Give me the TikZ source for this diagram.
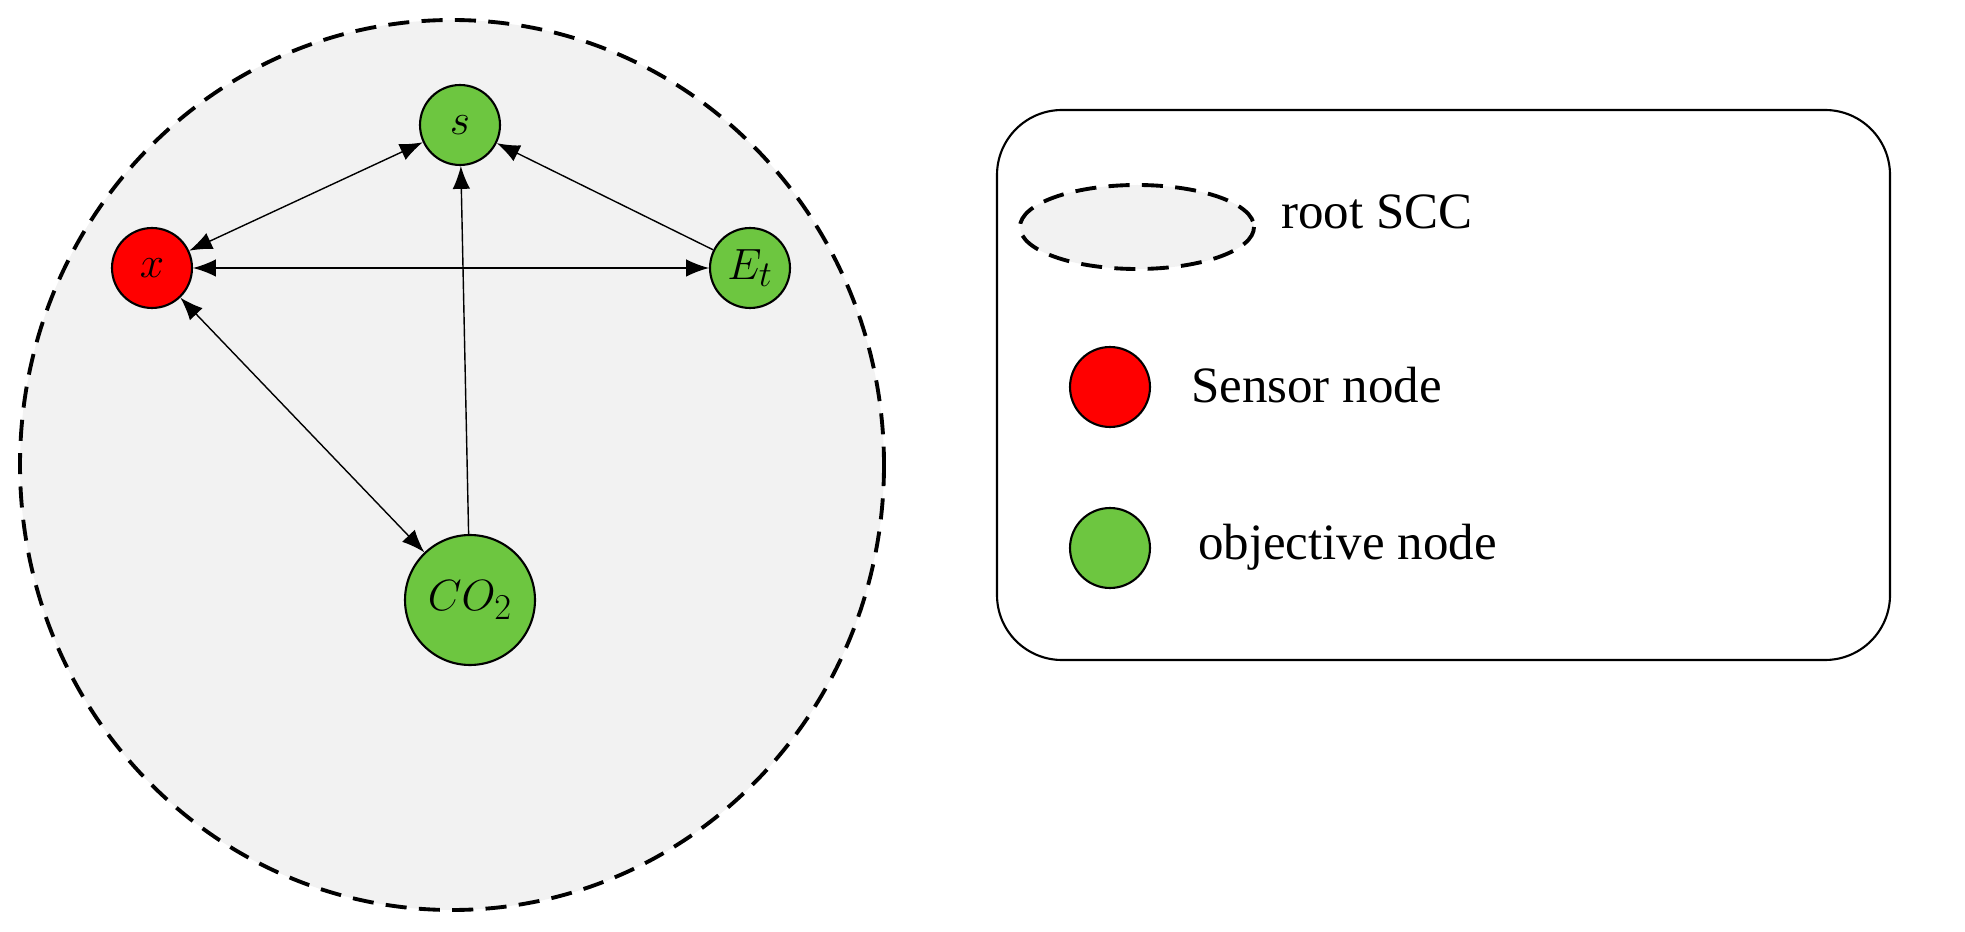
\documentclass[tikz,border=0pt]{standalone}
\usepackage{fontspec}
\setmainfont{Liberation Serif}
\usetikzlibrary{arrows.meta,positioning}
\begin{document}
\begin{tikzpicture}[x=0.02cm, y=-0.02cm]
\tikzset{
    sensor/.style={circle, draw=black, very thick, fill=red, minimum size=1.6cm, inner sep=0pt, font=\fontsize{32}{36}\selectfont},
    objective/.style={circle, draw=black, very thick, fill=green!55!lime!70!black!75!white, minimum size=1.6cm, inner sep=0pt, font=\fontsize{32}{36}\selectfont},
    myarrow/.style={-{Latex[length=13pt,width=10pt]}, thick},
    myboth/.style={{Latex[length=13pt,width=10pt]}-{Latex[length=13pt,width=10pt]}, thick},
    rootscc/.style={draw=black, line width=2.2pt, dash pattern=on 12pt off 7pt, fill=black!5},
    mylabel/.style={anchor=west, font=\fontsize{29}{33}\selectfont}
}
\useasboundingbox (0,0) rectangle (1965,932);
% root SCC
\draw[rootscc] (452,465) ellipse [x radius=432, y radius=445];
\node[objective] (s) at (460,125) {$s$};
\node[sensor] (x) at (152,268) {$x$};
\node[objective] (et) at (750,268) {$E_t$};
\node[objective, minimum size=2.6cm] (co2) at (470,600) {$CO_2$};
\draw[myboth] (x) -- (s);
\draw[myboth] (x) -- (et);
\draw[myboth] (x) -- (co2);
\draw[myarrow] (co2) -- (s);
\draw[myarrow] (et) -- (s);
% legend
\draw[very thick, rounded corners=1.3cm] (997,110) rectangle (1890,660);
\draw[rootscc] (1137,227) ellipse [x radius=117, y radius=42];
\node[sensor] (lsensor) at (1110,387) {};
\node[objective] (lobj) at (1110,548) {};
\node[mylabel] at (1275,212) {root SCC};
\node[mylabel] at (1185,385) {Sensor node};
\node[mylabel] at (1192,547) {objective node};
\end{tikzpicture}
\end{document}
